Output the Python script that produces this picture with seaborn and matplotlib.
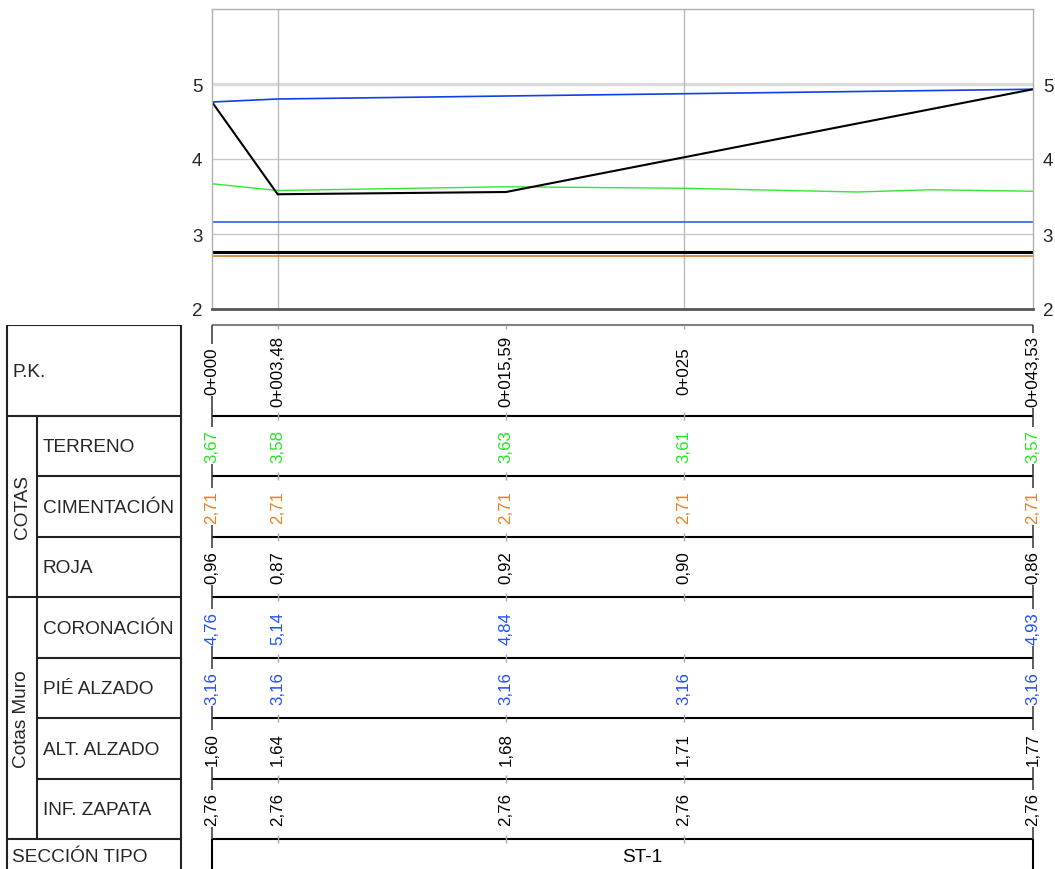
import matplotlib.pyplot as plt
import numpy as np
import pandas as pd
import seaborn as sns

# chainages (m) and the table values
pk = [0.0, 3.48, 15.59, 25.0, 43.53]
pk_labels = ['0+000', '0+003,48', '0+015,59', '0+025', '0+043,53']
terreno = [3.67, 3.58, 3.63, 3.61, 3.57]
cimentacion = [2.71, 2.71, 2.71, 2.71, 2.71]
roja = [0.96, 0.87, 0.92, 0.90, 0.86]
coronacion = [4.76, 5.14, 4.84, None, 4.93]
pie_alzado = [3.16, 3.16, 3.16, 3.16, 3.16]
alt_alzado = [1.60, 1.64, 1.68, 1.71, 1.77]
inf_zapata = [2.76, 2.76, 2.76, 2.76, 2.76]

# profile lines
terreno_x = [0.0, 3.48, 15.59, 25.0, 34.2, 38.1, 43.53]
terreno_y = [3.67, 3.58, 3.63, 3.61, 3.56, 3.59, 3.57]
rasante_x = [0.0, 3.48, 15.59, 43.53]
rasante_y = [4.76, 3.53, 3.56, 4.93]
coron_x = [0.0, 3.48, 15.59, 43.53]
coron_y = [4.76, 4.80, 4.84, 4.93]

row_names = ['P.K.', 'TERRENO', 'CIMENTACIÓN', 'ROJA', 'CORONACIÓN',
             'PIÉ ALZADO', 'ALT. ALZADO', 'INF. ZAPATA']
seccion = 'ST-1'

GREEN = '#22e622'
ORANGE = '#e8801e'
BLUE = '#1f4fff'

sns.set_style('white')
plt.rcParams['font.family'] = ['Liberation Sans', 'DejaVu Sans']

W, H = 1055, 870
fig = plt.figure(figsize=(W / 100, H / 100), dpi=100)


def box(l, t, r, b):
    return [l / W, 1 - b / H, (r - l) / W, (b - t) / H]


ax = fig.add_axes(box(212, 10, 1033, 310))
tab = fig.add_axes(box(212, 326, 1033, 870), sharex=ax)
head = fig.add_axes(box(0, 326, 212, 870))

x0, x1 = pk[0], pk[-1]

# ---- profile ----
ax.set_xlim(x0, x1)
ax.set_ylim(2, 6)
for y, lw, c in [(3, 1, '#c8c8c8'), (4, 1, '#c8c8c8'), (5, 2.5, '#dcdcdc')]:
    ax.axhline(y, color=c, lw=lw, zorder=0)
for x in [pk[1], pk[3]]:
    ax.axvline(x, color='#bbbbbb', lw=1, zorder=0)

sns.lineplot(x=pk, y=inf_zapata, ax=ax, color='black', lw=2.2, estimator=None)
sns.lineplot(x=pk, y=cimentacion, ax=ax, color='#d97a2a', lw=1.2, estimator=None)
sns.lineplot(x=pk, y=pie_alzado, ax=ax, color='#3060e0', lw=1.2, estimator=None)
sns.lineplot(x=terreno_x, y=terreno_y, ax=ax, color='#33e633', lw=1, estimator=None)
sns.lineplot(x=coron_x, y=coron_y, ax=ax, color='#1040e8', lw=1.2, estimator=None)
sns.lineplot(x=rasante_x, y=rasante_y, ax=ax, color='black', lw=1.5, estimator=None)

ax.set_xticks([])
ax.set_yticks([2, 3, 4, 5])
ax.set_yticklabels(['2', '3', '4', '5'])
ax.tick_params(axis='y', length=0, labelsize=13.5, labelright=True, pad=7)
ax.set_xlabel('')
ax.set_ylabel('')
for s in ['left', 'top', 'right']:
    ax.spines[s].set_color('#b0b0b0')
    ax.spines[s].set_linewidth(1)
ax.spines['bottom'].set_color('#555555')
ax.spines['bottom'].set_linewidth(2)

# ---- data table ----
heights = [90.5] + [60.5] * 7 + [30.5]
edges = [326.0]
for h in heights:
    edges.append(edges[-1] + h)
edges[-1] = 870

tab.set_ylim(870, 326)
tab.axis('off')
tab.hlines(edges[0], x0, x1, color='#808080', lw=1.5, clip_on=False)
tab.hlines(edges[1:-1], x0, x1, color='black', lw=1.5, clip_on=False)
tab.vlines([x0, x1], edges[0], edges[-2], color='#333333', lw=1.1, clip_on=False)
tab.vlines([x0, x1], edges[-2], edges[-1], color='black', lw=1.5, clip_on=False)
for x in pk[1:-1]:
    for y in edges[:-1]:
        tab.vlines(x, max(y - 4, 326), y + 4, color='#aaaaaa', lw=1, clip_on=False)


def fmt(v):
    return f'{v:.2f}'.replace('.', ',')


rows = [pk_labels, terreno, cimentacion, roja, coronacion,
        pie_alzado, alt_alzado, inf_zapata]
colors = ['black', GREEN, ORANGE, 'black', BLUE, BLUE, 'black', 'black']
for i, (vals, c) in enumerate(zip(rows, colors)):
    yc = (edges[i] + edges[i + 1]) / 2
    for x, v in zip(pk, vals):
        if v is None:
            continue
        s = v if isinstance(v, str) else fmt(v)
        tab.text(x, yc, s, rotation=90, ha='center', va='center', fontsize=12.2,
                 color=c, zorder=5,
                 bbox=dict(facecolor='white', edgecolor='none', pad=1.5))

tab.text(22.8, (edges[-2] + edges[-1]) / 2 + 2.5, seccion, ha='center',
         va='center', fontsize=13.7, color='black')

# ---- row headers ----
head.set_xlim(0, 212)
head.set_ylim(870, 326)
head.axis('off')
hc = '#222222'
head.hlines([edges[0], edges[1], edges[4], edges[8]], 7, 181, color=hc, lw=1.5)
head.hlines([edges[2], edges[3], edges[5], edges[6], edges[7]], 37, 181,
            color=hc, lw=1.5)
head.vlines([7, 181], edges[0], 870, color=hc, lw=1.5)
head.vlines(37, edges[1], edges[8], color=hc, lw=1.5)

FS = 13.7
head.text(12, (edges[0] + edges[1]) / 2 + 1, row_names[0], ha='left',
          va='center', fontsize=FS)
for i in range(1, 8):
    head.text(43, (edges[i] + edges[i + 1]) / 2 + 1, row_names[i], ha='left',
              va='center', fontsize=FS)
head.text(12, (edges[8] + edges[9]) / 2 + 2.5, 'SECCIÓN TIPO', ha='left',
          va='center', fontsize=FS)
head.text(22, (edges[1] + edges[4]) / 2, 'COTAS', rotation=90, ha='center',
          va='center', fontsize=FS)
head.text(22, (edges[4] + edges[8]) / 2, 'Cotas Muro', rotation=90,
          ha='center', va='center', fontsize=FS)

fig.savefig('out.png', dpi=100)
